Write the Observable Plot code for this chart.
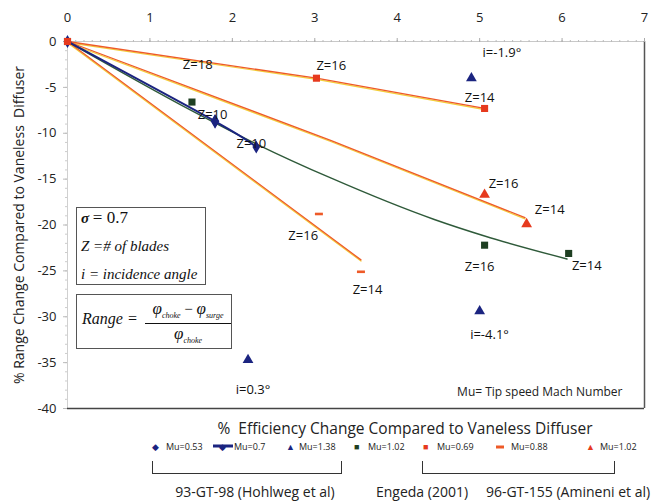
<!DOCTYPE html>
<html><head><meta charset="utf-8">
<script src="https://cdn.jsdelivr.net/npm/d3@7"></script>
<script src="https://cdn.jsdelivr.net/npm/@observablehq/plot@0.6"></script>
<style>
body{margin:0;background:#fff;}
#wrap{position:relative;width:656px;height:502px;font-family:'Open Sans',sans-serif;color:#222;overflow:hidden;}
.abs{position:absolute;white-space:nowrap;}
.box{position:absolute;border:1px solid #555;background:#fff;font-family:'Liberation Serif',serif;font-style:italic;color:#111;}
.leg{position:absolute;font-size:9px;white-space:nowrap;transform:translateY(-50%);}
.src{position:absolute;font-size:14px;white-space:nowrap;transform:translate(-50%,-50%);}
.brk{position:absolute;border:1.5px solid #333;border-top:none;}
</style>
</head><body><div id="wrap"></div>
<script>
// ---- axis ticks
const xTicks = [0,1,2,3,4,5,6,7];
const yTicks = [0,-5,-10,-15,-20,-25,-30,-35,-40];

// ---- 93-GT-98 (Hohlweg et al), navy
const mu053X = [1.79], mu053Y = [-8.7];
const mu07X = [0, 1.79, 2.29], mu07Y = [0, -8.7, -11.5];
const mu138X = [4.9, 5.0, 2.19], mu138Y = [-4.0, -29.4, -34.7];

// ---- Engeda (2001), green, Mu=1.02
const engX = [0, 1.51, 5.06, 6.08], engY = [0, -6.6, -22.2, -23.1];
const engFitX = [0, 1.5, 2.3, 3.2, 4.45, 5.06, 6.06];
const engFitY = [0, -7.5, -11.2, -14.9, -19.4, -21.2, -23.7];

// ---- 96-GT-155 (Amineni et al)
const am069X = [0, 3.02, 5.06], am069Y = [0, -4.0, -7.3];
const am088X = [3.05, 3.56], am088Y = [-18.8, -25.1];
const am088FitX = [0, 3.56], am088FitY = [0, -23.8];
const am102X = [5.06, 5.57], am102Y = [-16.7, -19.9];
const am102FitX = [0, 3.2, 5.55], am102FitY = [0, -10.8, -19.2];

// ---- point annotations
const labText = ["Z=18","Z=16","Z=14","Z=10","Z=10","Z=16","Z=14","Z=16","Z=14","Z=16","Z=14","i=-1.9°","i=-4.1°","i=0.3°"];
const labX = [1.58, 3.2, 5.0, 1.76, 2.23, 5.29, 5.85, 2.86, 3.64, 5.0, 6.3, 5.27, 5.12, 2.25];
const labY = [-2.5, -2.7, -6.1, -8.0, -11.2, -15.5, -18.4, -21.2, -27.1, -24.6, -24.5, -1.2, -32.0, -38.0];

const zip = (xs, ys) => xs.map((x, i) => ({x, y: ys[i]}));
const labels = labText.map((t, i) => ({text: t, x: labX[i], y: labY[i]}));

const NAVY = "#1b2480", GREEN = "#1e3f22", GREENL = "#2f5a3a", RED = "#e63a1e", ORANGE = "#ee5a28", YEL = "#f3cf3a";
const dashSymbol = {draw(ctx){ ctx.moveTo(-4,-1.3); ctx.lineTo(4,-1.3); ctx.lineTo(4,1.3); ctx.lineTo(-4,1.3); ctx.closePath(); }};

const orangeLine = (data) => [
  Plot.line(data, {x:"x", y:"y", stroke: YEL, strokeWidth: 1.2, dy: 1.2}),
  Plot.line(data, {x:"x", y:"y", stroke: ORANGE, strokeWidth: 1.3})
];

const chart = Plot.plot({
  width: 656, height: 420,
  marginTop: 41, marginLeft: 67, marginRight: 12, marginBottom: 12,
  x: {domain: [0, 7], axis: null, label: null},
  y: {domain: [-40, 0], axis: null, label: null},
  style: {fontFamily: "Open Sans, sans-serif", fontSize: "13px", color: "#222", background: "#fff"},
  marks: [
    // frame lines
    Plot.ruleY([0], {stroke: "#c8c8c8"}),
    Plot.ruleX([0], {stroke: "#d0d0d0"}),
    Plot.ruleX([7], {stroke: "#555", strokeWidth: 1.5}),
    Plot.ruleY([-40], {stroke: "#444", strokeWidth: 1.6}),
    // ticks
    Plot.axisX({anchor: "top", ticks: d3.range(0, 7.001, 0.1), tickSize: 2, tickFormat: () => "", stroke: "#bbb", label: null}),
    Plot.axisX({anchor: "top", ticks: xTicks, tickSize: 4, tickPadding: 16, tickFormat: d => String(d), stroke: "#aaa", fontSize: 13, label: null}),
    Plot.axisY({ticks: d3.range(-40, 0.001, 1), tickSize: 2, tickFormat: () => "", stroke: "#ccc", label: null}),
    Plot.axisY({ticks: yTicks, tickSize: 4, tickPadding: 7, tickFormat: d => String(d), stroke: "#bbb", fontSize: 13, label: null}),
    // axis title (y) and note
    Plot.text(["% Range Change Compared to Vaneless  Diffuser"], {frameAnchor: "left", textAnchor: "middle", lineAnchor: "middle", rotate: -90, dx: -48, fontSize: 14, fill: "#222"}),
    Plot.text(["Mu= Tip speed Mach Number"], {frameAnchor: "bottom-right", textAnchor: "end", dx: -22, dy: -16, lineAnchor: "middle", fontSize: 12, fill: "#222"}),
    // fits / lines
    ...orangeLine(zip(am069X, am069Y)),
    ...orangeLine(zip(am102FitX, am102FitY)),
    ...orangeLine(zip(am088FitX, am088FitY)),
    Plot.line(zip(engFitX, engFitY), {x:"x", y:"y", stroke: GREENL, strokeWidth: 1.4, curve: "monotone-x"}),
    Plot.line(zip(mu07X, mu07Y), {x:"x", y:"y", stroke: NAVY, strokeWidth: 2, curve: "natural"}),
    // markers
    Plot.dot(zip(engX, engY), {x:"x", y:"y", symbol: "square", r: 4, fill: GREEN}),
    Plot.dot(zip(mu053X, mu053Y), {x:"x", y:"y", symbol: "diamond", r: 4.5, fill: NAVY}),
    Plot.dot(zip(mu07X, mu07Y), {x:"x", y:"y", symbol: "diamond", r: 4, fill: NAVY}),
    Plot.dot(zip(mu138X, mu138Y), {x:"x", y:"y", symbol: "triangle", r: 4, fill: NAVY}),
    Plot.dot(zip(am069X, am069Y), {x:"x", y:"y", symbol: "square", r: 4, fill: RED}),
    Plot.dot(zip(am088X, am088Y), {x:"x", y:"y", symbol: dashSymbol, fill: ORANGE}),
    Plot.dot(zip(am102X, am102Y), {x:"x", y:"y", symbol: "triangle", r: 4, fill: RED}),
    // labels
    Plot.text(labels, {x:"x", y:"y", text:"text", fontSize: 13, fill: "#111"})
  ]
});

const wrap = document.getElementById("wrap");
chart.style.position = "absolute"; chart.style.left = "0"; chart.style.top = "0";
wrap.appendChild(chart);

function add(html){ wrap.insertAdjacentHTML("beforeend", html); }

// Annotation boxes
add(`<div class="box" style="left:76px;top:207px;width:130px;height:78px;font-size:15px;line-height:28px;padding-left:4px;box-sizing:border-box;">
<div style="margin-top:-4px"><b>σ</b> <span style="font-style:normal;font-size:17px">= 0.7</span></div>
<div>Z =# of blades</div>
<div>i = incidence angle</div></div>`);
add(`<div class="box" style="left:76px;top:294px;width:156px;height:55px;font-size:16px;box-sizing:border-box;">
<div style="position:absolute;left:5px;top:15px;">Range =</div>
<div style="position:absolute;left:66px;top:4px;width:90px;text-align:center;font-size:17px">φ<sub style="font-size:8px">choke</sub><span style="font-style:normal;font-size:15px"> − </span>φ<sub style="font-size:8px">surge</sub></div>
<div style="position:absolute;left:68px;top:28px;width:86px;border-top:1px solid #111;"></div>
<div style="position:absolute;left:66px;top:29px;width:90px;text-align:center;font-size:17px">φ<sub style="font-size:8px">choke</sub></div></div>`);

// x axis title
add(`<div class="abs" style="left:405px;top:428px;transform:translate(-50%,-50%);font-size:15.5px;">%&nbsp; Efficiency Change Compared to Vaneless Diffuser</div>`);

// Legend
const legY = 446;
const legItems = [
  {icon:`<span style="color:${NAVY};font-size:9px">◆</span>`, x:152, tx:166, text:"Mu=0.53"},
  {icon:`<span style="display:inline-block;position:relative;width:20px;height:8px;"><span style="position:absolute;left:0;top:3px;width:20px;height:2.5px;background:${NAVY}"></span><span style="position:absolute;left:6px;top:-2px;color:${NAVY};font-size:9px">◆</span></span>`, x:213, tx:234, text:"Mu=0.7"},
  {icon:`<span style="color:${NAVY};font-size:9px">▲</span>`, x:286, tx:299, text:"Mu=1.38"},
  {icon:`<span style="color:${GREEN};font-size:9px">■</span>`, x:354, tx:368, text:"Mu=1.02"},
  {icon:`<span style="color:${RED};font-size:9px">■</span>`, x:423, tx:437, text:"Mu=0.69"},
  {icon:`<span style="display:inline-block;width:8px;height:2.5px;background:${ORANGE};vertical-align:middle"></span>`, x:496, tx:511, text:"Mu=0.88"},
  {icon:`<span style="color:${RED};font-size:9px">▲</span>`, x:586, tx:600, text:"Mu=1.02"}
];
legItems.forEach(it => {
  add(`<div class="leg" style="left:${it.x}px;top:${legY}px;">${it.icon}</div>`);
  add(`<div class="leg" style="left:${it.tx}px;top:${legY}px;">${it.text}</div>`);
});

// Brackets
add(`<div class="brk" style="left:152px;top:461px;width:188px;height:12px;"></div>`);
add(`<div class="brk" style="left:422px;top:461px;width:191px;height:12px;"></div>`);

// Source labels
add(`<div class="src" style="left:255px;top:491px;">93-GT-98 (Hohlweg et al)</div>`);
add(`<div class="src" style="left:422px;top:491px;">Engeda (2001)</div>`);
add(`<div class="src" style="left:568px;top:491px;">96-GT-155 (Amineni et al)</div>`);
</script>
</body></html>
